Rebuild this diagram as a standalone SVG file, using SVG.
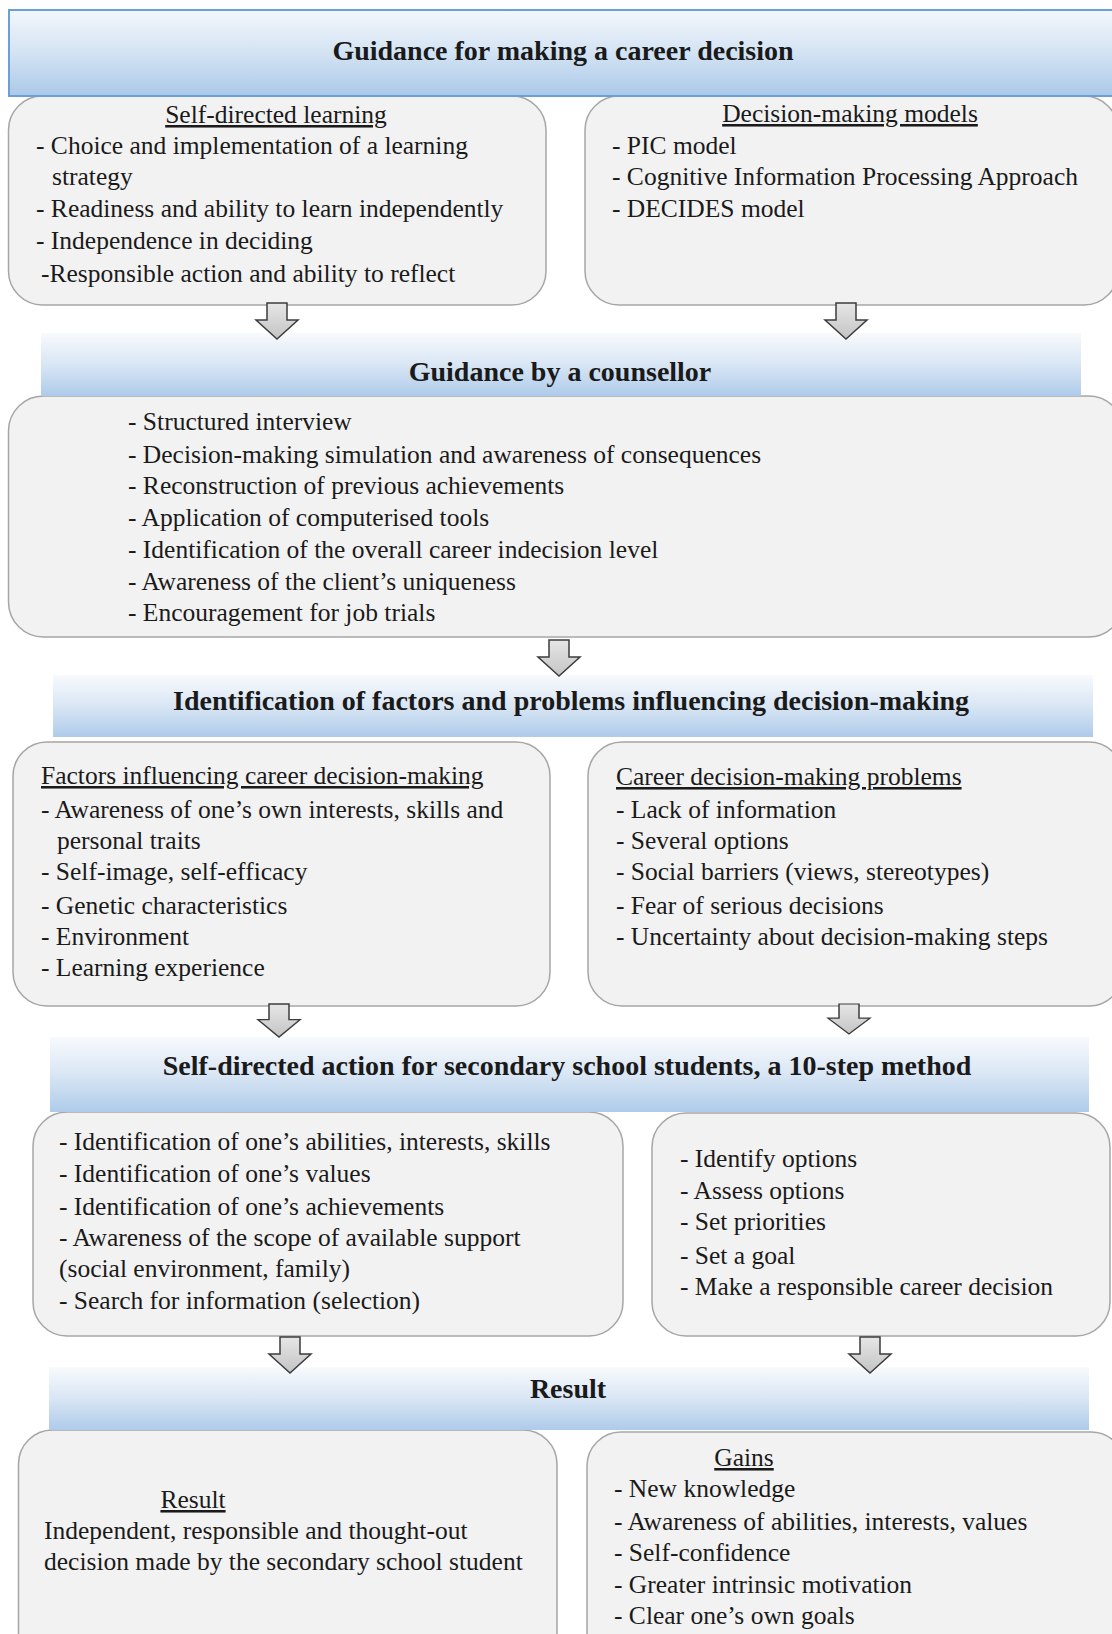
<svg xmlns="http://www.w3.org/2000/svg" width="1112" height="1634" viewBox="0 0 1112 1634">
<defs>
<linearGradient id="bannerGrad" x1="0" y1="0" x2="0" y2="1">
<stop offset="0" stop-color="#f8fafd"/>
<stop offset="0.5" stop-color="#d9e6f4"/>
<stop offset="1" stop-color="#aecbea"/>
</linearGradient>
<linearGradient id="topGrad" x1="0" y1="0" x2="0" y2="1">
<stop offset="0" stop-color="#f3f7fc"/>
<stop offset="0.5" stop-color="#d3e3f3"/>
<stop offset="1" stop-color="#abc9e9"/>
</linearGradient>
<linearGradient id="arrowGrad" x1="0" y1="0" x2="0" y2="1">
<stop offset="0" stop-color="#e6e6e6"/>
<stop offset="1" stop-color="#c4c4c4"/>
</linearGradient>
<path id="arrowShape" d="M -10 0 L 10 0 L 10 17 L 21 17 L 0 36 L -21 17 L -10 17 Z"/>
</defs>
<style>
.box { fill: #f2f2f2; stroke: #a6a6a6; stroke-width: 1.5; }
.banner { fill: url(#bannerGrad); }
.topbanner { fill: url(#topGrad); stroke: #6a9fd8; stroke-width: 2; }
.ttl { font-family: "Liberation Serif", "Times New Roman", serif; font-weight: bold; font-size: 28px; fill: #1a1a1a; text-anchor: middle; }
.t { font-family: "Liberation Serif", "Times New Roman", serif; font-size: 25.5px; fill: #1a1a1a; }
.u { text-decoration: underline; }
.c { text-anchor: middle; }
.arrow { fill: url(#arrowGrad); stroke: #3c3c3c; stroke-width: 1.5; stroke-linejoin: miter; }
</style>
<rect width="1112" height="1634" fill="#ffffff"/>

<g id="self-directed-learning">
<rect class="box" x="8.5" y="96" width="537.5" height="209" rx="34" ry="34"/>
<text class="t u c" x="276" y="123">Self-directed learning</text>
<text class="t" x="36" y="154">- Choice and implementation of a learning</text>
<text class="t" x="52" y="185">strategy</text>
<text class="t" x="36" y="217">- Readiness and ability to learn independently</text>
<text class="t" x="36" y="249">- Independence in deciding</text>
<text class="t" x="41" y="282">-Responsible action and ability to reflect</text>
</g>

<g id="decision-making-models">
<rect class="box" x="585" y="96" width="533" height="209" rx="34" ry="34"/>
<text class="t u c" x="850" y="122">Decision-making models</text>
<text class="t" x="612" y="154">- PIC model</text>
<text class="t" x="612" y="185">- Cognitive Information Processing Approach</text>
<text class="t" x="612" y="217">- DECIDES model</text>
</g>

<g id="banner-guidance">
<rect class="topbanner" x="9" y="10" width="1115" height="86"/>
<text class="ttl" x="563" y="60">Guidance for making a career decision</text>
</g>

<g id="counsellor-box">
<rect class="box" x="8.5" y="396" width="1115" height="241" rx="35" ry="35"/>
<text class="t" x="128" y="430">- Structured interview</text>
<text class="t" x="128" y="463">- Decision-making simulation and awareness of consequences</text>
<text class="t" x="128" y="494">- Reconstruction of previous achievements</text>
<text class="t" x="128" y="526">- Application of computerised tools</text>
<text class="t" x="128" y="558">- Identification of the overall career indecision level</text>
<text class="t" x="128" y="590">- Awareness of the client’s uniqueness</text>
<text class="t" x="128" y="621">- Encouragement for job trials</text>
</g>

<g id="banner-counsellor">
<rect class="banner" x="41" y="333" width="1040" height="63"/>
<text class="ttl" x="560" y="381">Guidance by a counsellor</text>
</g>

<g id="factors-box">
<rect class="box" x="13" y="742" width="537" height="264" rx="34" ry="34"/>
<text class="t u" x="41" y="784">Factors influencing career decision-making</text>
<text class="t" x="41" y="818">- Awareness of one’s own interests, skills and</text>
<text class="t" x="57" y="849">personal traits</text>
<text class="t" x="41" y="880">- Self-image, self-efficacy</text>
<text class="t" x="41" y="914">- Genetic characteristics</text>
<text class="t" x="41" y="945">- Environment</text>
<text class="t" x="41" y="976">- Learning experience</text>
</g>

<g id="problems-box">
<rect class="box" x="588" y="742" width="535" height="264" rx="34" ry="34"/>
<text class="t u" x="616" y="785">Career decision-making problems</text>
<text class="t" x="616" y="818">- Lack of information</text>
<text class="t" x="616" y="849">- Several options</text>
<text class="t" x="616" y="880">- Social barriers (views, stereotypes)</text>
<text class="t" x="616" y="914">- Fear of serious decisions</text>
<text class="t" x="616" y="945">- Uncertainty about decision-making steps</text>
</g>

<g id="banner-identification">
<rect class="banner" x="53" y="675" width="1040" height="62"/>
<text class="ttl" x="571" y="710">Identification of factors and problems influencing decision-making</text>
</g>

<g id="steps-left-box">
<rect class="box" x="33" y="1112" width="590" height="224" rx="34" ry="34"/>
<text class="t" x="59" y="1150">- Identification of one’s abilities, interests, skills</text>
<text class="t" x="59" y="1182">- Identification of one’s values</text>
<text class="t" x="59" y="1215">- Identification of one’s achievements</text>
<text class="t" x="59" y="1246">- Awareness of the scope of available support</text>
<text class="t" x="59" y="1277">(social environment, family)</text>
<text class="t" x="59" y="1309">- Search for information (selection)</text>
</g>

<g id="steps-right-box">
<rect class="box" x="652" y="1113" width="458" height="223" rx="34" ry="34"/>
<text class="t" x="680" y="1167">- Identify options</text>
<text class="t" x="680" y="1199">- Assess options</text>
<text class="t" x="680" y="1230">- Set priorities</text>
<text class="t" x="680" y="1264">- Set a goal</text>
<text class="t" x="680" y="1295">- Make a responsible career decision</text>
</g>

<g id="banner-self-directed-action">
<rect class="banner" x="50" y="1037" width="1039" height="75"/>
<text class="ttl" x="567" y="1075">Self-directed action for secondary school students, a 10-step method</text>
</g>

<g id="result-box">
<rect class="box" x="18.5" y="1430" width="538.5" height="240" rx="34" ry="34"/>
<text class="t u c" x="193" y="1508">Result</text>
<text class="t" x="44" y="1539">Independent, responsible and thought-out</text>
<text class="t" x="44" y="1570">decision made by the secondary school student</text>
</g>

<g id="gains-box">
<rect class="box" x="587" y="1432" width="538" height="240" rx="34" ry="34"/>
<text class="t u c" x="744" y="1466">Gains</text>
<text class="t" x="614" y="1497">- New knowledge</text>
<text class="t" x="614" y="1530">- Awareness of abilities, interests, values</text>
<text class="t" x="614" y="1561">- Self-confidence</text>
<text class="t" x="614" y="1593">- Greater intrinsic motivation</text>
<text class="t" x="614" y="1624">- Clear one’s own goals</text>
</g>

<g id="banner-result">
<rect class="banner" x="49" y="1367" width="1040" height="63"/>
<text class="ttl" x="568" y="1398">Result</text>
</g>

<g id="connectors">
<use href="#arrowShape" class="arrow" transform="translate(277,303)"/>
<use href="#arrowShape" class="arrow" transform="translate(846,303)"/>
<use href="#arrowShape" class="arrow" transform="translate(559,640)"/>
<use href="#arrowShape" class="arrow" transform="translate(279,1004) scale(1,0.92)"/>
<use href="#arrowShape" class="arrow" transform="translate(849,1004) scale(1,0.83)"/>
<use href="#arrowShape" class="arrow" transform="translate(290,1337)"/>
<use href="#arrowShape" class="arrow" transform="translate(870,1337)"/>
</g>
</svg>
